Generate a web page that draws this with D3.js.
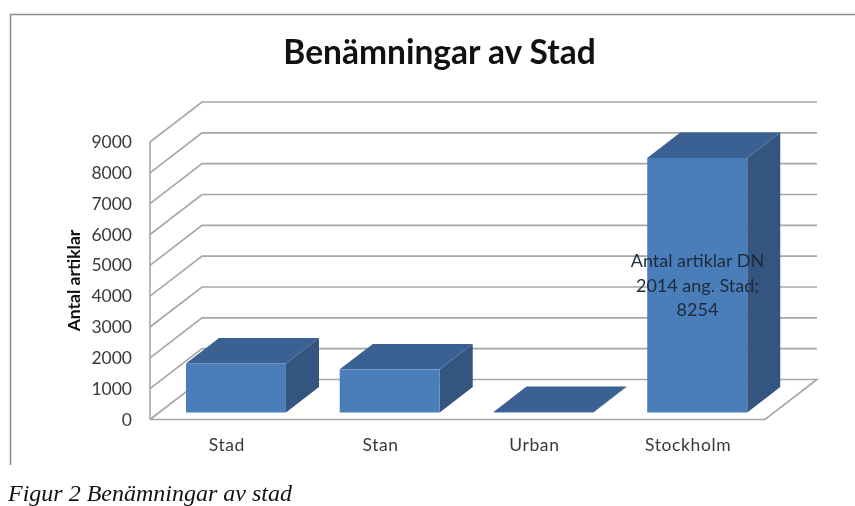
<!DOCTYPE html>
<html>
<head>
<meta charset="utf-8">
<script src="https://cdn.jsdelivr.net/npm/d3@7"></script>
<style>
body { margin: 0; background: #fff; }
svg { display: block; filter: blur(0.35px); }
text { font-family: Lato, "Open Sans", sans-serif; fill: #3a3a3a; }
</style>
</head>
<body>
<div id="chart"></div>
<script>
var categories = ["Stad", "Stan", "Urban", "Stockholm"];
var artiklar = [1590, 1400, 20, 8254];
var yTicks = [0, 1000, 2000, 3000, 4000, 5000, 6000, 7000, 8000, 9000];
var dataLabel = ["Antal artiklar DN", "2014 ang. Stad;", "8254"];

var width = 855, height = 506;
var svg = d3.select("#chart").append("svg").attr("width", width).attr("height", height);

var x = d3.scaleBand().domain(categories).range([150, 765]);
var y = d3.scaleLinear().domain([0, 9000]).range([419.5, 142]);
// depth of the box, 0 = front of the floor, 1 = back wall
var depthX = d3.scaleLinear().domain([0, 1]).range([0, 52]);
var depthY = d3.scaleLinear().domain([0, 1]).range([0, -40]);
var barWidth = 100;
var barNear = 0.175, barFar = 0.81;

// chart frame
svg.append("path").attr("d", "M10.5,465V14.5H855").attr("fill", "none").attr("stroke", "#8c8c8c").attr("stroke-width", 1.5);

svg.append("text").attr("x", 439.5).attr("y", 64).attr("text-anchor", "middle")
	.style("font-size", "33.5px").style("font-weight", 700).style("fill", "#111")
	.text("Benämningar av Stad");

// walls
var grid = svg.append("g").attr("fill", "none").attr("stroke", "#a6a6a6").attr("stroke-width", 1.6);
yTicks.forEach(function(t){
	var x0 = x.range()[0], x1 = x.range()[1];
	var line = "M" + x0 + "," + y(t) + "L" + (x0 + depthX(1)) + "," + (y(t) + depthY(1)) + "H" + (x1 + depthX(1));
	if(t == 0){
		line += "L" + x1 + "," + y(t) + "H" + x0;
	}
	grid.append("path").attr("d", line);
});
grid.append("line").attr("x1", x.range()[0]).attr("x2", x.range()[0]).attr("y1", y(0)).attr("y2", y(9000));

// axis labels
svg.append("g").selectAll("text").data(yTicks).enter().append("text")
	.attr("x", 132).attr("y", function(d){ return y(d) + 6; })
	.attr("text-anchor", "end").style("font-size", "17.5px")
	.text(function(d){ return d; });

svg.append("g").selectAll("text").data(categories).enter().append("text")
	.attr("x", function(d){ return x(d) + x.bandwidth() / 2; }).attr("y", 451)
	.attr("text-anchor", "middle").style("font-size", "17.5px").style("letter-spacing", "0.6px")
	.text(function(d){ return d; });

svg.append("text").attr("transform", "translate(80,280.5) rotate(-90)").attr("text-anchor", "middle")
	.style("font-size", "17.5px").style("font-weight", 700).style("fill", "#111")
	.text("Antal artiklar");

// bars
var bars = svg.append("g").selectAll("g").data(categories).enter().append("g");
function box(d, i){
	var left = x(d) + x.bandwidth() / 2 + depthX(barNear) - barWidth / 2;
	var right = left + barWidth;
	var base = y(0) + depthY(barNear);
	var top = base - (y(0) - y(artiklar[i]));
	var dx = depthX(barFar - barNear), dy = depthY(barFar - barNear);
	return {left: left, right: right, base: base, top: top, dx: dx, dy: dy};
}
bars.append("path").attr("fill", "#335580").attr("d", function(d, i){
	var b = box(d, i);
	return "M" + b.right + "," + b.base + "V" + b.top + "l" + b.dx + "," + b.dy + "V" + (b.base + b.dy) + "Z";
});
bars.append("path").attr("fill", "#3b6192").attr("d", function(d, i){
	var b = box(d, i);
	return "M" + b.left + "," + b.top + "H" + b.right + "l" + b.dx + "," + b.dy + "H" + (b.left + b.dx) + "Z";
});
bars.append("rect").attr("fill", "#4a7ebb")
	.attr("x", function(d, i){ return box(d, i).left; })
	.attr("y", function(d, i){ return box(d, i).top; })
	.attr("width", barWidth)
	.attr("height", function(d, i){ var b = box(d, i); return b.base - b.top; });

// data label
svg.append("g").selectAll("text").data(dataLabel).enter().append("text")
	.attr("x", 697.5).attr("y", function(d, i){ return 267 + i * 24.5; })
	.attr("text-anchor", "middle").style("font-size", "18px").style("fill", "#1f2a38")
	.text(function(d){ return d; });

svg.append("text").attr("x", 8).attr("y", 501)
	.style("font-family", "'Liberation Serif'").style("font-style", "italic").style("font-size", "24px").style("fill", "#111")
	.text("Figur 2 Benämningar av stad");
</script>
</body>
</html>
